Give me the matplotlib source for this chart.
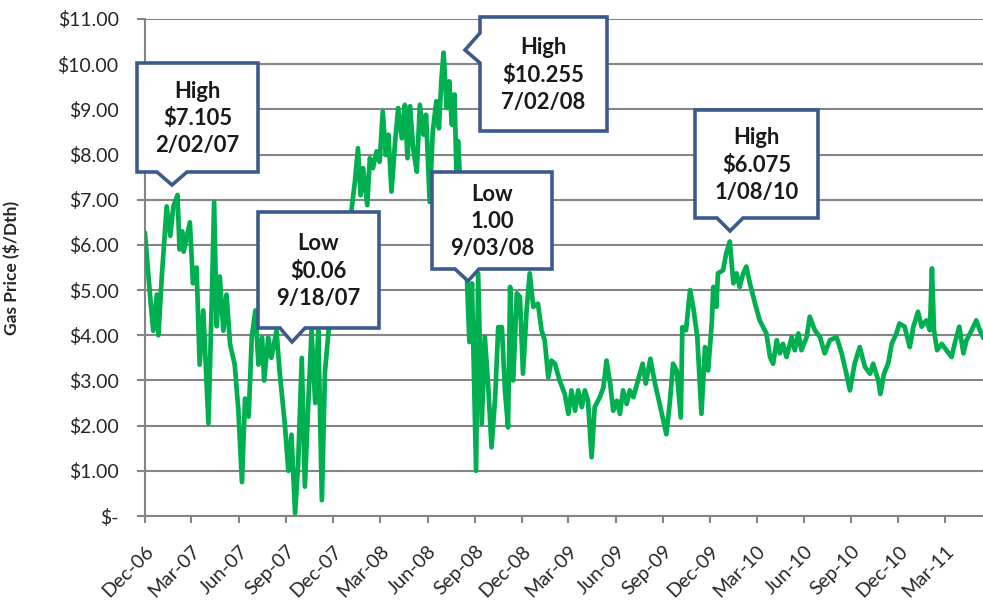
import numpy as np
import pandas as pd
import matplotlib
matplotlib.use('Agg')
import matplotlib.pyplot as plt
import matplotlib.dates as mdates
from matplotlib.patches import Polygon

plt.rcParams['font.family'] = ['Lato', 'DejaVu Sans']

# precos diarios (aproximados)
datas = [
    '2006-12-01', '2006-12-11', '2006-12-17', '2006-12-24', '2006-12-27',
    '2007-01-02', '2007-01-12', '2007-01-19', '2007-01-25', '2007-02-02',
    '2007-02-06', '2007-02-11', '2007-02-14', '2007-02-26', '2007-03-04',
    '2007-03-11', '2007-03-17', '2007-03-24', '2007-04-03', '2007-04-09',
    '2007-04-14', '2007-04-19', '2007-04-25', '2007-05-02', '2007-05-08',
    '2007-05-15', '2007-05-24', '2007-05-31', '2007-06-07', '2007-06-13',
    '2007-06-20', '2007-06-26', '2007-07-03', '2007-07-09', '2007-07-16',
    '2007-07-20', '2007-07-28', '2007-08-03', '2007-08-13', '2007-08-19',
    '2007-08-29', '2007-09-05', '2007-09-11', '2007-09-18', '2007-09-24',
    '2007-10-01', '2007-10-07', '2007-10-14', '2007-10-20', '2007-10-27',
    '2007-11-02', '2007-11-09', '2007-11-15', '2007-11-22', '2007-11-28',
    '2007-12-08', '2007-12-21', '2007-12-31',
    '2008-01-05', '2008-01-12', '2008-01-18', '2008-01-23', '2008-01-28',
    '2008-02-05', '2008-02-10', '2008-02-16', '2008-02-23', '2008-02-29',
    '2008-03-06', '2008-03-12', '2008-03-17', '2008-03-23', '2008-03-30',
    '2008-04-05', '2008-04-12', '2008-04-18', '2008-04-23', '2008-04-28',
    '2008-05-04', '2008-05-11', '2008-05-17', '2008-05-24', '2008-05-29',
    '2008-06-05', '2008-06-11', '2008-06-18', '2008-06-23', '2008-06-28',
    '2008-07-02', '2008-07-08', '2008-07-13', '2008-07-18', '2008-07-23',
    '2008-07-27', '2008-07-30', '2008-08-07', '2008-08-16', '2008-08-21',
    '2008-08-26', '2008-09-03', '2008-09-07', '2008-09-14', '2008-09-20',
    '2008-09-27', '2008-10-03', '2008-10-10', '2008-10-16', '2008-10-23',
    '2008-10-29', '2008-11-04', '2008-11-08', '2008-11-14', '2008-11-21',
    '2008-11-27', '2008-12-03', '2008-12-10', '2008-12-16', '2008-12-23',
    '2009-01-01', '2009-01-08', '2009-01-14', '2009-01-21', '2009-01-27',
    '2009-02-03', '2009-02-12', '2009-02-22', '2009-03-01', '2009-03-07',
    '2009-03-14', '2009-03-20', '2009-03-27', '2009-04-02', '2009-04-08',
    '2009-04-15', '2009-04-21', '2009-05-01', '2009-05-08', '2009-05-14',
    '2009-05-21', '2009-05-27', '2009-06-03', '2009-06-09', '2009-06-15',
    '2009-06-22', '2009-06-28', '2009-07-05', '2009-07-14', '2009-07-23',
    '2009-07-29', '2009-08-07', '2009-08-16', '2009-08-25', '2009-09-07',
    '2009-09-14', '2009-09-20', '2009-09-27', '2009-10-05', '2009-10-08',
    '2009-10-15', '2009-10-23', '2009-10-29', '2009-11-06', '2009-11-14',
    '2009-11-21', '2009-11-27', '2009-12-04', '2009-12-07', '2009-12-13',
    '2009-12-16', '2009-12-26', '2010-01-01', '2010-01-08', '2010-01-15',
    '2010-01-21', '2010-01-27', '2010-02-03', '2010-02-09', '2010-02-16',
    '2010-02-26', '2010-03-07', '2010-03-20', '2010-03-27', '2010-04-02',
    '2010-04-09', '2010-04-15', '2010-04-21', '2010-04-28', '2010-05-08',
    '2010-05-14', '2010-05-21', '2010-05-27', '2010-06-06', '2010-06-12',
    '2010-06-22', '2010-07-02', '2010-07-11', '2010-07-21', '2010-08-03',
    '2010-08-13', '2010-08-22', '2010-08-29', '2010-09-07', '2010-09-17',
    '2010-09-27', '2010-10-07', '2010-10-13', '2010-10-23', '2010-10-27',
    '2010-11-03', '2010-11-11', '2010-11-18', '2010-11-27', '2010-12-03',
    '2010-12-13', '2010-12-23', '2010-12-30', '2011-01-08', '2011-01-15',
    '2011-01-24', '2011-01-31', '2011-02-04', '2011-02-08', '2011-02-14',
    '2011-02-23', '2011-03-04', '2011-03-14', '2011-03-20', '2011-03-29',
    '2011-04-06', '2011-04-12', '2011-04-22', '2011-05-01', '2011-05-08',
    '2011-05-14',
]

precos = [
    6.25, 4.85, 4.10, 4.90, 4.00,
    5.20, 6.85, 6.20, 6.85, 7.105,
    5.90, 6.30, 5.85, 6.50, 5.15,
    5.50, 3.35, 4.55, 2.05, 4.55,
    6.95, 4.20, 5.30, 4.10, 4.90,
    3.80, 3.35, 2.35, 0.75, 2.60,
    2.20, 3.95, 4.55, 3.35, 3.95,
    3.00, 3.95, 3.50, 4.10, 3.20,
    2.05, 1.00, 1.80, 0.06, 1.15,
    3.50, 0.65, 2.60, 4.10, 2.50,
    4.10, 0.35, 3.20, 4.10, 4.80,
    5.60, 6.20, 6.60,
    6.73, 7.40, 8.14, 7.10, 7.70,
    6.88, 7.92, 7.70, 8.07, 7.84,
    8.95, 7.99, 8.44, 7.18, 8.29,
    9.03, 8.36, 9.10, 7.92, 9.07,
    8.14, 7.62, 9.10, 8.44, 8.88,
    6.95, 8.51, 9.18, 8.58, 9.70,
    10.255, 9.03, 9.62, 8.66, 9.33,
    7.62, 8.30, 6.60, 5.37, 3.85,
    5.15, 1.00, 5.37, 2.04, 3.96,
    2.78, 1.52, 2.63, 4.18, 4.18,
    2.78, 1.96, 5.07, 3.00, 4.93,
    4.85, 3.15, 4.56, 5.37, 4.63,
    4.70, 4.11, 3.89, 3.07, 3.44,
    3.37, 3.00, 2.70, 2.26, 2.78,
    2.33, 2.78, 2.41, 2.78, 2.55,
    1.30, 2.41, 2.63, 2.85, 3.44,
    2.93, 2.33, 2.55, 2.26, 2.78,
    2.48, 2.78, 2.63, 3.00, 3.37,
    2.93, 3.48, 2.93, 2.48, 1.81,
    2.55, 3.37, 3.22, 2.18, 4.18,
    4.11, 5.00, 4.63, 3.96, 2.26,
    3.74, 3.22, 4.26, 5.07, 4.63,
    5.37, 5.44, 5.81, 6.075, 5.15,
    5.37, 5.07, 5.37, 5.52, 5.15,
    4.70, 4.33, 4.04, 3.52, 3.37,
    3.89, 3.60, 3.81, 3.52, 3.96,
    3.67, 4.04, 3.67, 3.96, 4.41,
    4.11, 3.96, 3.60, 3.89, 3.96,
    3.60, 3.15, 2.78, 3.37, 3.74,
    3.30, 3.15, 3.37, 3.00, 2.70,
    3.15, 3.37, 3.81, 4.04, 4.26,
    4.19, 3.74, 4.19, 4.52, 4.19,
    4.33, 4.11, 5.48, 4.11, 3.67,
    3.81, 3.67, 3.52, 3.81, 4.19,
    3.60, 3.89, 4.11, 4.33, 4.11,
    3.96,
]

# textos das caixas de destaque
rotulos = ['High\n$7.105\n2/02/07', 'Low\n$0.06\n9/18/07',
           'High\n$10.255\n7/02/08', 'Low\n1.00\n9/03/08',
           'High\n$6.075\n1/08/10']

datas = pd.to_datetime(datas)

W, H = 983, 601
fig = plt.figure(figsize=(W / 100, H / 100), dpi=100)
ax = fig.add_axes([145 / W, 1 - 516 / H, 1 - 145 / W, (516 - 19) / H])

ax.plot(datas, precos, color='#00B050', lw=3.4, zorder=3)

ax.set_ylim(0, 11)
ax.set_xlim(pd.Timestamp('2006-12-01'), pd.Timestamp('2011-05-14'))
ax.set_yticks(np.arange(0, 12, 1))
ax.set_yticklabels(['$-'] + ['${:.2f}'.format(v) for v in range(1, 12)])
ax.yaxis.grid(True, color='#858585', lw=1.5)
ax.set_axisbelow(True)

ax.xaxis.set_major_locator(mdates.MonthLocator(bymonth=[3, 6, 9, 12]))
ax.xaxis.set_major_formatter(mdates.DateFormatter('%b-%y'))
plt.setp(ax.get_xticklabels(), rotation=45, ha='right', va='top',
         rotation_mode='anchor')

for s in ['top', 'right']:
    ax.spines[s].set_visible(False)
for s in ['left', 'bottom']:
    ax.spines[s].set_color('#858585')
    ax.spines[s].set_linewidth(1.5)

ax.tick_params(axis='y', length=6, width=1.5, color='#858585', pad=13,
               labelsize=14, labelcolor='#262626')
ax.tick_params(axis='x', length=5, width=1.5, color='#858585', pad=14,
               labelsize=14, labelcolor='#262626')

ax.set_ylabel('Gas Price ($/Dth)', fontsize=12.5, fontweight='bold',
              color='#262626')
ax.yaxis.set_label_coords(-125 / (W - 145), 0.5)


def px(x, y):
    return (x / W, 1 - y / H)


def caixa(esq, dir, topo, base, ponta, lado, texto):
    # lado: 'baixo' -> seta em baixo, 'esq' -> seta do lado esquerdo
    p1, tip, p2 = ponta
    if lado == 'baixo':
        pts = [(esq, topo), (dir, topo), (dir, base), (p2, base),
               tip, (p1, base), (esq, base)]
    else:
        pts = [(esq, topo), (dir, topo), (dir, base), (esq, base),
               (esq, p2), tip, (esq, p1)]
    poly = Polygon([px(*p) for p in pts], closed=True, transform=fig.transFigure,
                   facecolor='white', edgecolor='#3B5B8C', lw=2.6,
                   joinstyle='miter', zorder=5, clip_on=False)
    fig.patches.append(poly)
    cx, cy = px((esq + dir) / 2, (topo + base) / 2 + 1)
    fig.text(cx, cy, texto, ha='center', va='center', fontsize=15.8,
             fontweight='bold', color='#1A1A1A', linespacing=1.38, zorder=6)


caixa(137, 258, 63, 172, (157, (172, 185), 187), 'baixo', rotulos[0])
caixa(258, 379, 212, 328, (280, (292, 342), 305), 'baixo', rotulos[1])
caixa(480, 607, 17, 131, (33, (465, 50), 63), 'esq', rotulos[2])
caixa(432, 552, 172, 269, (455, (468, 281), 479), 'baixo', rotulos[3])
caixa(695, 818, 110, 218, (717, (730, 231), 743), 'baixo', rotulos[4])

fig.savefig('out.png', dpi=100, facecolor='white')
plt.close()
